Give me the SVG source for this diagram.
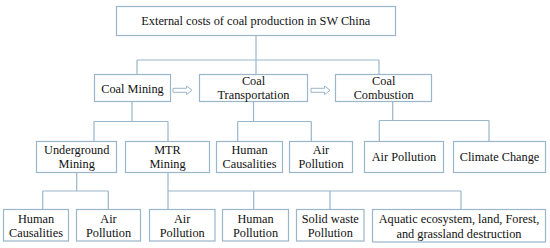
<svg xmlns="http://www.w3.org/2000/svg" width="550" height="248" viewBox="0 0 550 248">
<style>
.box{fill:#ffffff;stroke:#9ab6cb;stroke-width:1.2}
.ln{fill:none;stroke:#9ab6cb;stroke-width:1.2}
.arr{fill:#ffffff;stroke:#9ab6cb;stroke-width:1}
text{font-family:"Liberation Serif","Times New Roman",serif;font-size:12.3px;fill:#111111;text-anchor:middle}
</style>
<rect width="550" height="248" fill="#ffffff"/>
<g id="connectors">
<path class="ln" d="M256 35.5V74.5M137 60H379M137 60V74.5M379 60V74.5"/>
<path class="ln" d="M132 101.5V121.5M94 121.5H168M94 121.5V141.5M168 121.5V141.5"/>
<path class="ln" d="M253.5 101.5V121.5M237.7 121.5H311.3M237.7 121.5V141.5M311.3 121.5V141.5"/>
<path class="ln" d="M392.7 101.5V120.5M379.3 120.5H489M379.3 120.5V141.5M489 120.5V141.5"/>
<path class="ln" d="M76.7 172.5V191M42.7 191H108.3M42.7 191V209.5M108.3 191V209.5"/>
<path class="ln" d="M168 172.5V209.5M168 191H461M253.7 191V209.5M330 191V209.5M461 191V209.5"/>
<path class="arr" d="M173 88.3H186.5V86L192 90.3L186.5 94.6V92.3H173Z"/>
<path class="arr" d="M311 88.3H324.5V86L330 90.3L324.5 94.6V92.3H311Z"/>
</g>
<g id="nodes" font-family="Liberation Serif, Times New Roman, serif">
<g id="n-root"><rect class="box" x="116.5" y="6.5" width="279" height="29"/><text x="255.8" y="25.3">External costs of coal production in SW China</text></g>
<g id="n-mining"><rect class="box" x="94.5" y="74.5" width="76" height="27"/><text x="132.5" y="92.7">Coal Mining</text></g>
<g id="n-transport"><rect class="box" x="199.5" y="74.5" width="108" height="27"/><text x="253.5" y="84.5">Coal</text><text x="253.5" y="99">Transportation</text></g>
<g id="n-combustion"><rect class="box" x="335.5" y="74.5" width="96" height="27"/><text x="383.7" y="84.5">Coal</text><text x="383.7" y="99">Combustion</text></g>
<g id="n-underground"><rect class="box" x="36.5" y="141.5" width="80" height="31"/><text x="76.7" y="154">Underground</text><text x="76.7" y="168.3">Mining</text></g>
<g id="n-mtr"><rect class="box" x="125.5" y="141.5" width="84" height="31"/><text x="167.5" y="154">MTR</text><text x="167.5" y="168.3">Mining</text></g>
<g id="n-t-human"><rect class="box" x="216.5" y="141.5" width="66" height="31"/><text x="249.5" y="154">Human</text><text x="249.5" y="168.3">Causalities</text></g>
<g id="n-t-air"><rect class="box" x="289.5" y="141.5" width="63" height="31"/><text x="321" y="154">Air</text><text x="321" y="168.3">Pollution</text></g>
<g id="n-c-air"><rect class="box" x="364.5" y="141.5" width="79" height="31"/><text x="404" y="161">Air Pollution</text></g>
<g id="n-c-climate"><rect class="box" x="453.5" y="141.5" width="92" height="31"/><text x="499.5" y="161">Climate Change</text></g>
<g id="n-u-human"><rect class="box" x="3.5" y="209.5" width="65" height="31.5"/><text x="36" y="222.5">Human</text><text x="36" y="237">Causalities</text></g>
<g id="n-u-air"><rect class="box" x="76.5" y="209.5" width="64" height="31.5"/><text x="108.5" y="222.5">Air</text><text x="108.5" y="237">Pollution</text></g>
<g id="n-m-air"><rect class="box" x="149.5" y="209.5" width="65.5" height="31.5"/><text x="182.2" y="222.5">Air</text><text x="182.2" y="237">Pollution</text></g>
<g id="n-m-human"><rect class="box" x="222.5" y="209.5" width="66" height="31.5"/><text x="255.5" y="222.5">Human</text><text x="255.5" y="237">Pollution</text></g>
<g id="n-m-solid"><rect class="box" x="296.5" y="209.5" width="67.5" height="31.5"/><text x="330.3" y="222.5">Solid waste</text><text x="330.3" y="237">Pollution</text></g>
<g id="n-m-aquatic"><rect class="box" x="372.5" y="209.5" width="173" height="32.5"/><text x="459" y="223.3">Aquatic ecosystem, land, Forest,</text><text x="459" y="238.3">and grassland destruction</text></g>
</g>
</svg>
